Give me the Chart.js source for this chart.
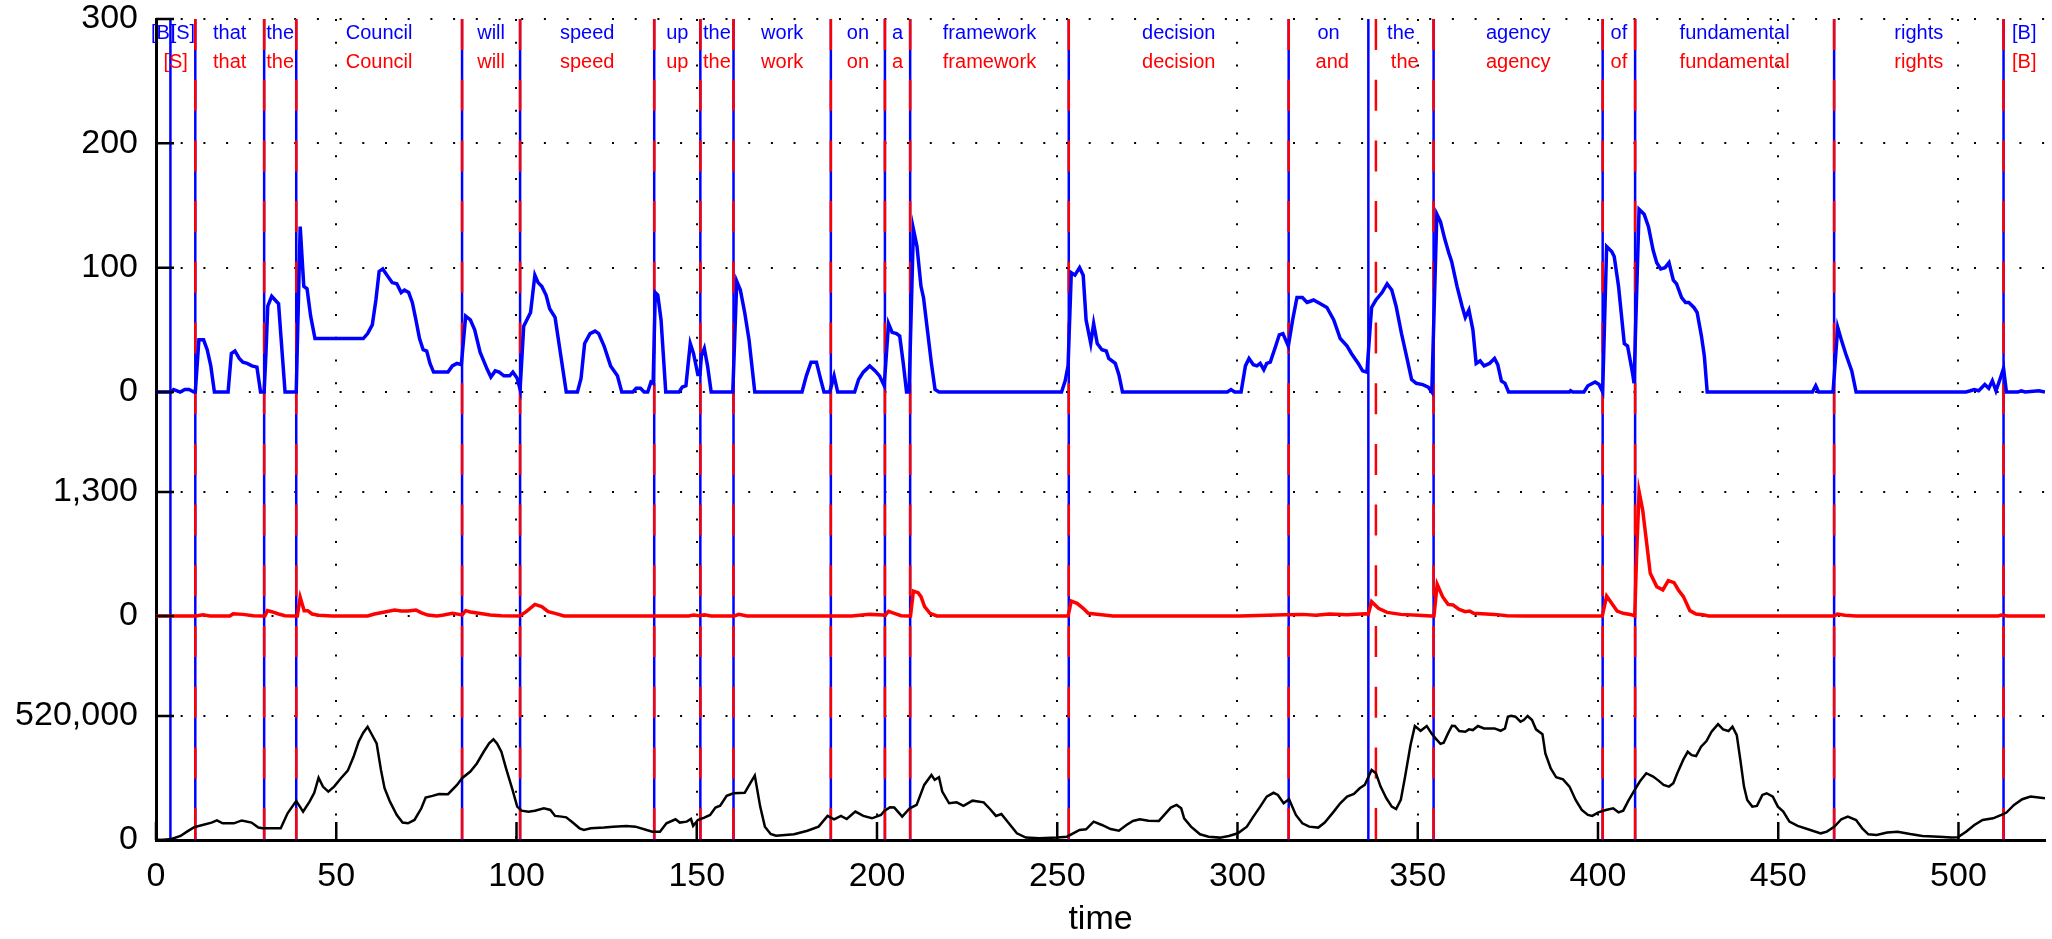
<!DOCTYPE html>
<html>
<head>
<meta charset="utf-8">
<title>time</title>
<script src="https://cdn.jsdelivr.net/npm/chart.js@4.4.1/dist/chart.umd.min.js"></script>
<style>
  html, body { margin: 0; padding: 0; background: #fff; }
  #wrap { width: 2052px; height: 939px; }
</style>
</head>
<body>
<div id="wrap"><canvas id="chart" width="2052" height="939"></canvas></div>
<script>
// --- data ---
const xTicks = [0, 50, 100, 150, 200, 250, 300, 350, 400, 450, 500];
const blueTicks = [0, 100, 200, 300];
const redTicks = [0, 1300];
const blackTicks = [0, 520000];
const timeMax = 524;

// word boundaries (time) and words, blue tier and red tier
const blueBounds = [4, 10.9, 30, 38.9, 84.9, 101, 138.2, 151, 160.2, 187.2, 202.2, 209.2, 253.2, 314.2, 336.3, 354.4, 401.3, 410.3, 465.5, 512.5];
const blueWords = ['[B]', '[S]', 'that', 'the', 'Council', 'will', 'speed', 'up', 'the', 'work', 'on', 'a', 'framework', 'decision', 'on', 'the', 'agency', 'of', 'fundamental', 'rights', '[B]'];
const redBounds = [10.9, 30, 38.9, 84.9, 101, 138.2, 151, 160.2, 187.2, 202.2, 209.2, 253.2, 314.2, 338.4, 354.4, 401.3, 410.3, 465.5, 512.5];
const redWords = ['[S]', 'that', 'the', 'Council', 'will', 'speed', 'up', 'the', 'work', 'on', 'a', 'framework', 'decision', 'and', 'the', 'agency', 'of', 'fundamental', 'rights', '[B]'];

// top curve (blue)
const blueT = [0, 4.3, 4.9, 6.7, 8.0, 9.2, 10.5, 10.9, 11.9, 13.2, 14.2, 15.2, 16.2, 20.0, 20.9, 21.9, 23.1, 24.1, 25.3, 26.6, 28.0, 29.0, 30.0,
  30.5, 31.0, 32.1, 34.0, 34.6, 35.8, 38.9, 40.0, 41.0, 41.9, 42.9, 44.1, 57.5, 58.7, 60.0, 61.0, 61.9, 62.9, 64.3, 65.5, 66.8, 68.0, 68.9,
  70.1, 71.1, 72.1, 73.1, 74.1, 75.1, 76.0, 77.0, 81.0, 82.2, 83.5, 84.7, 85.9, 87.2, 88.4, 89.9, 90.9, 91.9, 92.9, 94.1, 95.2, 96.5, 98.1,
  99.0, 100.2, 101.0, 102.0, 103.9, 105.1, 106.0, 107.0, 108.2, 109.2, 110.7, 112.2, 113.8, 116.9, 117.9, 118.9, 120.4, 121.8, 122.8, 124.3,
  126.1, 128.0, 129.2, 132.3, 133.2, 134.4, 135.4, 136.4, 137.3, 137.9, 138.5, 139.2, 140.1, 141.4, 145.1, 146.0, 147.0, 148.2, 149.1, 150.3,
  150.9, 151.3, 152.1, 153.0, 154.0, 160.0, 161.1, 162.1, 163.3, 164.5, 166.1, 179.2, 180.4, 181.7, 183.2, 184.4, 185.3, 186.9, 188.1, 189.1,
  193.8, 194.9, 196.2, 198.0, 199.5, 200.7, 202.0, 203.2, 204.2, 205.4, 206.3, 207.3, 208.2, 208.9, 210.1, 211.1, 212.2, 212.9, 214.1, 215.1,
  216.1, 217.2, 251.2, 252.2, 253.0, 253.9, 254.9, 256.2, 257.2, 258.0, 259.3, 260.1, 261.1, 262.4, 263.6, 264.3, 266.1, 267.1, 268.1, 297.2,
  298.2, 299.2, 301.0, 302.2, 303.2, 304.4, 305.4, 306.3, 307.3, 308.1, 309.1, 310.6, 311.6, 312.6, 314.1, 315.3, 316.5, 318.0, 319.3, 320.2,
  321.1, 323.0, 324.8, 326.7, 328.5, 330.4, 331.6, 333.5, 334.7, 335.9, 337.2, 338.4, 340.1, 341.5, 342.8, 344.0, 345.5, 347.1, 348.3, 349.6,
  351.4, 352.9, 353.9, 355.3, 356.3, 357.5, 358.6, 359.4, 360.9, 362.3, 363.2, 364.2, 365.3, 366.2, 367.3, 368.4, 369.9, 371.3, 372.2, 373.2,
  374.2, 375.2, 392.1, 392.4, 393.0, 396.1, 397.2, 399.2, 400.3, 401.3, 402.4, 403.8, 404.5, 405.7, 407.3, 408.2, 409.6, 410.0, 411.4, 412.8,
  414.0, 415.3, 416.3, 417.4, 418.6, 419.7, 420.9, 421.8, 423.2, 424.3, 425.2, 426.6, 427.5, 428.7, 429.5, 430.3, 459.5, 460.4, 461.2, 465.2,
  466.5, 467.5, 468.7, 470.4, 471.6, 502.1, 503.3, 504.4, 505.6, 507.3, 508.4, 509.4, 510.4, 511.6, 512.5, 513.3, 516.5, 517.4, 518.5, 522.3, 524];
const blueV = [0, 0, 2, 0, 2, 2, 0, 0, 42, 42, 34, 21, 0, 0, 31, 33, 27, 24, 23, 21, 20, 0, 0,
  31, 69, 77, 71, 47, 0, 0, 133, 85, 83, 61, 43, 43, 47, 54, 74, 97, 99, 93, 88, 87, 80, 82,
  80, 72, 58, 43, 34, 33, 23, 16, 16, 21, 23, 22, 61, 58, 50, 32, 25, 18, 12, 17, 16, 13, 13,
  16, 11, 2, 53, 64, 94, 88, 85, 78, 67, 60, 31, 0, 0, 11, 39, 47, 49, 47, 37,
  21, 13, 0, 0, 3, 3, 0, 0, 8, 7, 80, 78, 58, 0, 0, 4, 5, 39, 31, 14,
  14, 29, 35, 21, 0, 0, 89, 82, 64, 42, 0, 0, 13, 24, 24, 10, 0, 0, 13, 0,
  0, 10, 16, 21, 17, 13, 5, 55, 48, 47, 45, 23, 0, 0, 131, 117, 85, 76, 47, 23,
  2, 0, 0, 9, 21, 96, 94, 100, 94, 58, 39, 55, 39, 34, 33, 27, 23, 14, 0, 0,
  2, 0, 0, 21, 27, 22, 21, 23, 18, 23, 24, 37, 46, 47, 37, 58, 76, 76, 72, 73,
  74, 71, 68, 58, 43, 37, 31, 23, 17, 16, 68, 74, 80, 87, 82, 69, 47, 26, 10, 7,
  6, 4, 0, 143, 137, 123, 112, 105, 85, 69, 60, 66, 50, 23, 25, 21, 23, 27, 22, 9,
  7, 0, 0, 1, 0, 0, 5, 8, 6, 0, 117, 113, 109, 85, 39, 37, 15, 7, 147, 143,
  133, 114, 104, 99, 100, 104, 90, 87, 76, 72, 72, 68, 64, 45, 29, 0, 0, 5, 0, 0,
  52, 42, 31, 17, 0, 0, 1, 2, 1, 6, 3, 9, 1, 11, 19, 0, 0, 1, 0, 1, 0];

// middle curve (red)
const redT = [0, 11.1, 13, 15, 20.5, 21.4, 24.1, 27, 29.6, 30.2, 30.9, 32.1, 34, 35.8, 38.7, 39.2, 40, 41.1, 42.1, 43.3, 45.1, 48.8,
  58.7, 60.6, 62.4, 66.2, 68, 69.9, 72.1, 73.5, 75.4, 77.9, 79.8, 82.2, 84.1, 84.9, 85.9, 87.2, 89.6, 92.7, 95.8, 100.8, 102.7,
  105.1, 107, 108.8, 110.7, 113.2, 147.8, 149.1, 150.6, 152.1, 154, 160.4, 161.7, 163.9, 193, 198, 201.7, 202.2, 203.2, 204.8,
  206.7, 208.8, 209.3, 210.1, 211.4, 212.2, 213.2, 214.7, 216.6, 253, 253.9, 255.5, 257.2, 258.6, 262.3, 265.4, 300.7, 313.1,
  318, 321.7, 325.5, 330.4, 335.4, 336.3, 337.2, 339.1, 341.5, 345.3, 350.2, 353.7, 354.5, 355.4, 356.9, 358.4, 359.8, 361.5,
  363.2, 364.4, 365.5, 367.8, 371.3, 374.8, 379.4, 401.2, 402.4, 403.8, 405.3, 407, 409.3, 410.2, 410.7, 411.4, 412.4, 413.4,
  414.5, 416.3, 418, 419.5, 421.1, 422.3, 423.7, 425.5, 427.2, 429.5, 430.7, 465.5, 466.4, 468.5, 471.6, 511, 511.9, 513.6, 524];
const redV = [0, 0, 14, 0, 0, 24, 17, 3, 0, 0, 56, 45, 21, 3, 0, 0, 196, 56, 56, 21, 7, 0,
  0, 21, 35, 63, 52, 52, 63, 35, 10, 0, 10, 28, 17, 10, 56, 42, 28, 10, 3, 0, 45,
  122, 98, 45, 28, 0, 0, 10, 3, 14, 0, 0, 17, 0, 0, 17, 10, 5, 49, 28,
  3, 0, 0, 262, 245, 203, 98, 28, 0, 0, 157, 133, 80, 28, 14, 0, 0, 14,
  17, 7, 21, 14, 24, 20, 150, 80, 38, 17, 7, 0, 0, 332, 203, 122, 115, 70,
  45, 52, 28, 24, 17, 3, 0, 0, 210, 133, 52, 28, 14, 0, 622, 1304, 1111, 797,
  447, 308, 273, 370, 350, 273, 203, 56, 21, 10, 0, 0, 21, 7, 0, 0, 10, 0, 0];

// bottom curve (black)
const blackT = [0, 1.8, 4.3, 6.8, 8.6, 10.5, 12.9, 15.4, 16.9, 18.5, 21.6, 23.8, 26.5, 28.4, 29.6, 32.7, 34.6, 36.5, 38.9, 40.8, 42.6,
  43.9, 45.1, 46.3, 47.8, 49.4, 51.3, 53.2, 54.8, 56.2, 57.5, 58.7, 60.2, 61.2, 62.4, 63.4, 64.9, 66.8, 68.4, 69.9, 71.7, 73.6, 74.8,
  76.7, 78.5, 81.0, 83.5, 84.9, 87.2, 89.0, 90.9, 92.4, 93.6, 94.6, 95.8, 97.1, 98.9, 100.2, 101.4, 103.3, 105.1, 107.6, 109.4, 110.7,
  112.5, 113.8, 115.6, 117.5, 118.7, 120.6, 124.3, 126.8, 130.5, 133.0, 136.1, 137.7, 139.8, 141.6, 144.1, 145.3, 147.2, 148.4, 149.0,
  150.3, 152.1, 153.7, 155.2, 156.5, 158.3, 160.2, 163.3, 164.9, 166.1, 167.6, 168.9, 170.5, 172.0, 177.0, 180.7, 183.8, 186.3, 188.1,
  190.0, 191.6, 194.0, 196.2, 198.6, 201.1, 202.1, 203.6, 204.8, 207.0, 209.1, 211.0, 213.1, 215.1, 216.0, 217.2, 218.1, 220.0, 222.1,
  224.0, 226.5, 229.6, 231.4, 233.0, 234.5, 236.4, 238.8, 241.3, 245.0, 250.0, 252.7, 256.2, 258.0, 260.1, 262.4, 264.8, 267.1, 269.2,
  271.0, 272.9, 275.3, 278.2, 279.7, 281.5, 283.1, 284.4, 285.2, 287.1, 289.6, 292.0, 295.1, 297.6, 300.1, 302.6, 304.4, 306.3, 308.1,
  310.0, 311.2, 312.8, 314.3, 316.2, 318.0, 319.9, 322.4, 324.2, 326.7, 328.5, 330.4, 332.3, 333.9, 335.3, 337.2, 338.4, 339.7, 341.3,
  342.8, 344.0, 345.3, 346.5, 348.0, 349.2, 350.8, 352.5, 353.9, 355.0, 356.3, 357.2, 358.4, 359.5, 360.3, 361.5, 363.2, 364.2, 365.3,
  366.7, 368.4, 371.3, 373.0, 374.2, 375.0, 375.9, 377.1, 378.5, 379.4, 380.5, 381.7, 382.8, 384.6, 385.4, 386.9, 388.4, 390.3, 392.1,
  393.8, 395.5, 397.2, 398.4, 400.1, 402.2, 404.2, 405.7, 407.0, 408.4, 409.9, 411.6, 413.4, 415.3, 416.8, 418.2, 419.7, 420.9, 422.0,
  423.7, 424.9, 426.0, 427.2, 428.6, 430.1, 431.5, 433.3, 434.7, 436.2, 437.3, 438.5, 439.5, 440.5, 441.4, 442.8, 444.1, 445.6, 446.8,
  448.5, 449.9, 451.4, 453.1, 455.4, 458.9, 461.8, 463.5, 465.6, 467.5, 469.3, 471.6, 473.3, 475.0, 477.3, 480.2, 483.1, 486.6, 490.0,
  494.6, 498.1, 499.8, 502.1, 504.4, 506.7, 509.6, 511.9, 513.3, 515.4, 517.7, 520.0, 521.7, 524];
const blackV = [0, 0, 4000, 17000, 35000, 53000, 63000, 73000, 82000, 70000, 70000, 82000, 73000, 52000, 49000, 49000, 49000, 112000, 164000, 119000, 161000,
  198000, 261000, 224000, 203000, 224000, 259000, 291000, 349000, 412000, 450000, 475000, 433000, 405000, 294000, 217000, 161000, 105000, 73000, 70000, 84000, 133000, 178000,
  185000, 193000, 192000, 231000, 259000, 287000, 321000, 370000, 405000, 422000, 405000, 370000, 300000, 210000, 140000, 123000, 119000, 123000, 133000, 126000, 101000,
  98000, 95000, 73000, 49000, 42000, 49000, 52000, 56000, 59000, 56000, 42000, 35000, 35000, 70000, 87000, 73000, 77000, 88000, 59000,
  84000, 94000, 105000, 136000, 144000, 185000, 196000, 198000, 240000, 270000, 140000, 56000, 25000, 18000, 24000, 39000, 56000, 101000, 87000,
  101000, 88000, 119000, 101000, 91000, 105000, 123000, 137000, 136000, 98000, 133000, 147000, 231000, 273000, 252000, 263000, 203000, 154000, 158000,
  143000, 165000, 158000, 129000, 101000, 109000, 73000, 28000, 10000, 7000, 10000, 14000, 42000, 45000, 77000, 63000, 46000, 39000, 63000,
  80000, 87000, 81000, 80000, 105000, 136000, 147000, 133000, 91000, 56000, 24000, 14000, 10000, 17000, 28000, 56000, 98000, 140000, 182000,
  198000, 189000, 154000, 171000, 105000, 70000, 56000, 52000, 73000, 119000, 154000, 182000, 193000, 217000, 231000, 294000, 280000, 224000, 175000,
  140000, 130000, 168000, 266000, 398000, 478000, 458000, 478000, 445000, 425000, 403000, 408000, 447000, 479000, 478000, 457000, 454000, 464000, 461000,
  478000, 468000, 468000, 458000, 468000, 517000, 521000, 517000, 496000, 503000, 520000, 503000, 464000, 444000, 363000, 300000, 263000, 254000, 224000,
  168000, 126000, 105000, 101000, 116000, 126000, 133000, 116000, 123000, 164000, 203000, 245000, 280000, 266000, 249000, 231000, 224000, 238000, 280000,
  338000, 370000, 356000, 352000, 391000, 415000, 454000, 486000, 464000, 457000, 475000, 440000, 335000, 224000, 168000, 140000, 143000, 189000, 196000,
  182000, 140000, 119000, 77000, 59000, 42000, 28000, 35000, 56000, 87000, 98000, 84000, 49000, 24000, 21000, 31000, 35000, 25000, 17000,
  14000, 10000, 11000, 35000, 63000, 84000, 91000, 105000, 115000, 147000, 171000, 182000, 179000, 175000];

const BLUE = '#0000ff';
const RED = '#ff0000';
const FONT = "'Liberation Sans', Arial, Helvetica, sans-serif";

function toPoints(ts, vs) {
  return ts.map((t, i) => ({ x: t, y: vs[i] }));
}

// word boundary lines, word labels and inward tick marks
const wordsPlugin = {
  id: 'words',
  beforeDatasetsDraw(chart) {
    const { ctx, chartArea: a, scales: { x } } = chart;
    ctx.save();
    ctx.lineWidth = 2.5;
    ctx.strokeStyle = BLUE;
    blueBounds.forEach(t => {
      const px = x.getPixelForValue(t);
      ctx.beginPath();
      ctx.moveTo(px, a.top);
      ctx.lineTo(px, a.bottom);
      ctx.stroke();
    });
    ctx.strokeStyle = RED;
    ctx.setLineDash([31, 29.7]);
    redBounds.forEach(t => {
      const px = x.getPixelForValue(t);
      ctx.beginPath();
      ctx.moveTo(px, a.top);
      ctx.lineTo(px, a.bottom);
      ctx.stroke();
    });
    ctx.restore();
  },
  afterDatasetsDraw(chart) {
    const { ctx, chartArea: a, scales } = chart;
    const x = scales.x;
    ctx.save();
    ctx.font = '20px ' + FONT;
    ctx.textAlign = 'center';
    ctx.textBaseline = 'alphabetic';
    const drawTier = (bounds, words, color, y) => {
      const edges = [0, ...bounds, timeMax];
      ctx.fillStyle = color;
      words.forEach((w, i) => {
        const cx = (x.getPixelForValue(edges[i]) + x.getPixelForValue(edges[i + 1])) / 2;
        ctx.fillText(w, cx, y);
      });
    };
    drawTier(blueBounds, blueWords, BLUE, a.top + 20);
    drawTier(redBounds, redWords, RED, a.top + 49);

    // tick marks point into the plot
    ctx.strokeStyle = '#000';
    ctx.lineWidth = 2.5;
    ctx.beginPath();
    xTicks.forEach(v => {
      const px = x.getPixelForValue(v);
      ctx.moveTo(px, a.bottom);
      ctx.lineTo(px, a.bottom - 18);
    });
    [['yBlue', blueTicks], ['yRed', redTicks], ['yBlack', blackTicks]].forEach(([id, ticks]) => {
      ticks.forEach(v => {
        const py = scales[id].getPixelForValue(v);
        ctx.moveTo(a.left, py);
        ctx.lineTo(a.left + 18, py);
      });
    });
    ctx.stroke();
    ctx.restore();
  }
};

// no extra room for half labels: the plot starts right at the top padding
function noLabelPadding(s) {
  s.paddingTop = 0;
  s.paddingBottom = 0;
  s.paddingLeft = 0;
  s.paddingRight = 0;
}

function yAxis(min, max, ticks, weight, stackWeight) {
  return {
    type: 'linear',
    position: 'left',
    stack: 'panels',
    stackWeight: stackWeight,
    weight: weight,
    min: min,
    max: max,
    afterBuildTicks: s => { s.ticks = ticks.map(v => ({ value: v })); },
    afterFit: s => { s.width = 156; noLabelPadding(s); },
    ticks: {
      color: '#000',
      padding: 18,
      font: { family: FONT, size: 34 },
      callback: v => v.toLocaleString('en-US')
    },
    grid: { color: '#000', lineWidth: 2, drawTicks: false },
    border: { display: true, color: '#000', width: 3, dash: [2, 20.7] }
  };
}

new Chart(document.getElementById('chart'), {
  type: 'line',
  data: {
    datasets: [
      { data: toPoints(blueT, blueV), yAxisID: 'yBlue', borderColor: BLUE, borderWidth: 3.5 },
      { data: toPoints(redT, redV), yAxisID: 'yRed', borderColor: RED, borderWidth: 3.5 },
      { data: toPoints(blackT, blackV), yAxisID: 'yBlack', borderColor: '#000', borderWidth: 2.5 }
    ]
  },
  options: {
    responsive: false,
    animation: false,
    devicePixelRatio: 1,
    layout: { padding: { top: 19, right: 7, left: 0, bottom: 0 } },
    elements: { point: { radius: 0 }, line: { tension: 0 } },
    plugins: { legend: { display: false }, tooltip: { enabled: false } },
    scales: {
      x: {
        type: 'linear',
        position: 'bottom',
        min: 0,
        max: timeMax,
        afterBuildTicks: s => { s.ticks = xTicks.map(v => ({ value: v })); },
        afterFit: s => { s.height = 99; noLabelPadding(s); },
        ticks: { color: '#000', padding: 16, maxRotation: 0, font: { family: FONT, size: 34 } },
        grid: { color: '#000', lineWidth: 2, drawTicks: false },
        border: { display: true, color: '#000', width: 3, dash: [2, 20.7] },
        title: {
          display: true,
          text: 'time',
          color: '#000',
          padding: { top: 0, bottom: 2 },
          font: { family: FONT, size: 34, lineHeight: 1 }
        }
      },
      yBlack: yAxis(0, 729677, blackTicks, 0, 174),
      yRed: yAxis(-524.2, 1824.2, redTicks, 1, 224),
      yBlue: yAxis(-40.2, 300, blueTicks, 2, 423)
    }
  },
  plugins: [wordsPlugin]
});
</script>
</body>
</html>
